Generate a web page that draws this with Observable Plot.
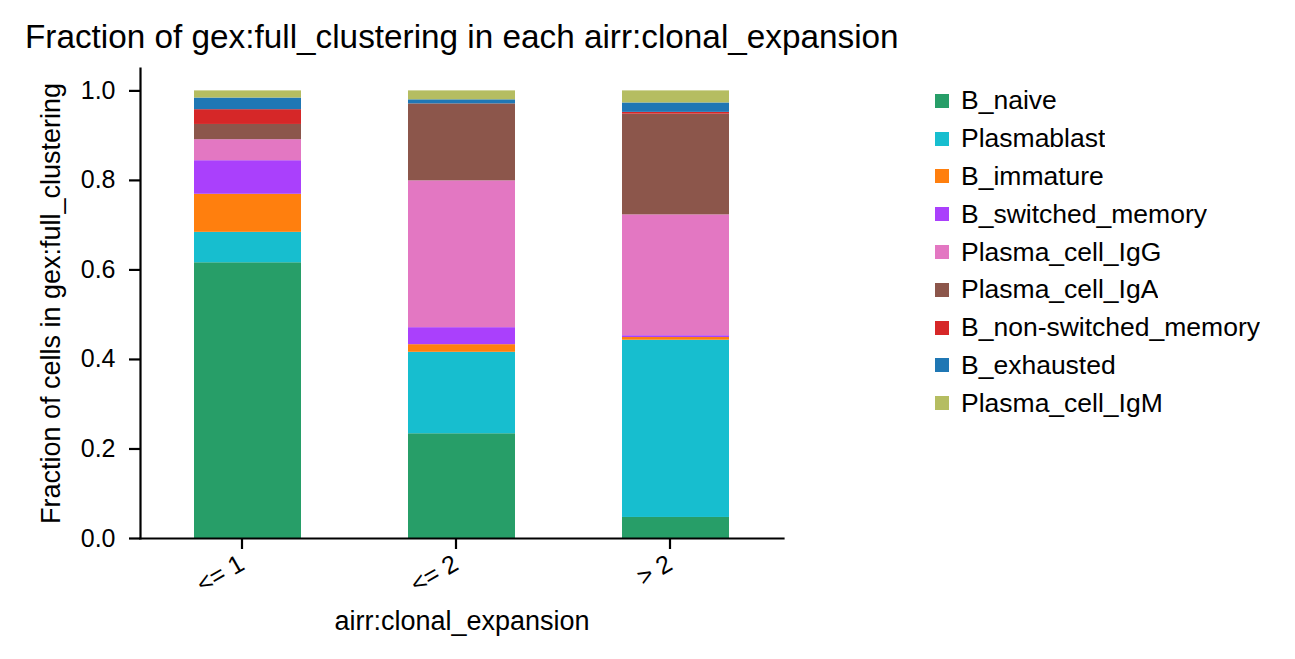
<!DOCTYPE html>
<html>
<head>
<meta charset="utf-8">
<script src="https://cdn.jsdelivr.net/npm/d3@7"></script>
<script src="https://cdn.jsdelivr.net/npm/@observablehq/plot@0.6"></script>
<style>
  body { margin: 0; background: #fff; font-family: "Liberation Sans", Arial, sans-serif; }
  #wrap { position: relative; width: 1295px; height: 659px; overflow: hidden; background: #fff; }
  #title { position: absolute; left: 25px; top: 20px; font-size: 33.3px; line-height: 1; color: #000; white-space: nowrap; }
  #chart { position: absolute; left: 0; top: 60px; }
  #legend { position: absolute; left: 935px; top: 82px; width: 360px; }
  #legend, #legend * { font-family: "Liberation Sans", Arial, sans-serif !important; font-size: 26.5px !important; color: #000 !important; }
  #legend > div { margin: 0 !important; }
  #legend .lg-swatch { height: 37.8px !important; padding-bottom: 0 !important; box-sizing: border-box; display: flex; align-items: center; }
  #legend .lg-swatch svg { margin-right: 12px !important; }
</style>
</head>
<body>
<div id="wrap">
  <div id="title">Fraction of gex:full_clustering in each airr:clonal_expansion</div>
  <div id="chart"></div>
  <div id="legend"></div>
</div>
<script>
const groups = ["<= 1", "<= 2", "> 2"];
const cellTypes = ["B_naive", "Plasmablast", "B_immature", "B_switched_memory", "Plasma_cell_IgG", "Plasma_cell_IgA", "B_non-switched_memory", "B_exhausted", "Plasma_cell_IgM"];
const colors = ["#279e68", "#17becf", "#ff7f0e", "#aa40fc", "#e377c2", "#8c564b", "#d62728", "#1f77b4", "#b5bd61"];
const fracLe1 = [0.616, 0.068, 0.085, 0.075, 0.047, 0.034, 0.033, 0.026, 0.016];
const fracLe2 = [0.234, 0.182, 0.017, 0.038, 0.328, 0.172, 0.000, 0.009, 0.020];
const fracGt2 = [0.047, 0.396, 0.006, 0.004, 0.270, 0.225, 0.004, 0.021, 0.027];
const yTicks = [0, 0.2, 0.4, 0.6, 0.8, 1.0];

const series = [fracLe1, fracLe2, fracGt2];
const rows = [];
groups.forEach((g, i) => {
  cellTypes.forEach((c, j) => rows.push({group: g, cellType: c, fraction: series[i][j]}));
});

const font = "'Liberation Sans', Arial, sans-serif";
const chart = Plot.plot({
  width: 1295,
  height: 599,
  marginLeft: 140,
  marginRight: 512,
  marginTop: 8,
  marginBottom: 121,
  style: {fontFamily: font, fontSize: "25px", color: "#000", background: "transparent", overflow: "visible"},
  x: {domain: groups, paddingInner: 0.5, paddingOuter: 0.25},
  y: {domain: [0, 1.05]},
  color: {domain: cellTypes, range: colors},
  marks: [
    Plot.barY(rows, {x: "group", y: "fraction", fill: "cellType", order: null}),
    Plot.frame({anchor: "left", stroke: "#000", strokeWidth: 2.2}),
    Plot.frame({anchor: "bottom", stroke: "#000", strokeWidth: 2.2}),
    Plot.axisY({ticks: yTicks, tickFormat: d3.format(".1f"), tickSize: 11, tickPadding: 14, strokeWidth: 2.2,
      fontSize: 25, label: null}),
    Plot.axisY({ticks: [], tickSize: 0, fontSize: 27,
      label: "Fraction of cells in gex:full_clustering", labelAnchor: "center", labelOffset: 100, labelArrow: "none"}),
    Plot.axisX({tickRotate: -30, tickSize: 11, tickPadding: 12, dx: -6, strokeWidth: 2.2, fontSize: 25, label: null}),
    Plot.axisX({ticks: [], tickSize: 0, fontSize: 27,
      label: "airr:clonal_expansion", labelAnchor: "center", labelOffset: 91, labelArrow: "none"})
  ]
});
document.getElementById("chart").appendChild(chart);
const leg = chart.legend("color", {columns: 1, swatchSize: 14, className: "lg"});
document.getElementById("legend").appendChild(leg);
</script>
</body>
</html>
